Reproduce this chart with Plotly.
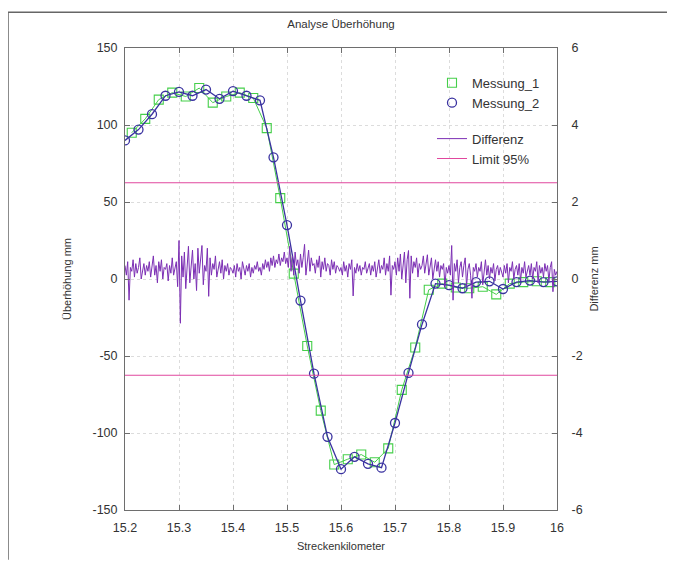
import numpy as np
import plotly.graph_objects as go

# ---------------- data ----------------
messung1_km = [15.2125, 15.2375, 15.2625, 15.2875, 15.3125, 15.3375, 15.3625, 15.3875,
               15.4125, 15.4375, 15.4625, 15.4875, 15.5125, 15.5375, 15.5625, 15.5875,
               15.6125, 15.6375, 15.6625, 15.6875, 15.7125, 15.7375, 15.7625, 15.7875,
               15.8125, 15.8375, 15.8625, 15.8875, 15.9125, 15.9375, 15.9625, 15.9875]
messung1_mm = [95, 104, 116.5, 121, 118.5, 124, 114.5, 118.5,
               121, 117.5, 98, 52.5, 3.5, -43.5, -85.5, -120.5,
               -117, -114, -119, -110, -72, -44.5, -7, -3,
               -5.5, -6, -5, -10, -3, -2, -1.5, -2]

messung2_km = [15.200, 15.225, 15.250, 15.275, 15.300, 15.325, 15.350, 15.375, 15.400,
               15.425, 15.450, 15.475, 15.500, 15.525, 15.550, 15.575, 15.600, 15.625,
               15.650, 15.675, 15.700, 15.725, 15.750, 15.775, 15.800, 15.825, 15.850,
               15.875, 15.900, 15.925, 15.950, 15.975, 16.000]
messung2_mm = [90, 97, 107, 119, 121.5, 119, 123, 117, 122,
               119, 116, 79, 35, -14, -61.5, -102.5, -123.5, -115.5,
               -120, -122.5, -93.5, -61, -29.5, -3, -4, -6, -2,
               -1.5, -6.5, -2, -1, -2, -1.5]

diff_start_km = 15.2
diff_step_km = 0.0025
differenz_mm = [
    0.35, 0.10, 0.45, -0.55, 0.30, 0.20, 0.50, 0.05, 0.40, 0.15, 0.30, 0.55, 0.00, 0.25, 0.40, 0.10, 0.35, 0.20, 0.45, 0.05,
    0.30, 0.60, 0.10, 0.35, -0.10, 0.45, 0.20, 0.50, 0.00, 0.30, 0.25, 0.40, -0.05, 0.35, 0.15, 0.55, 0.10, 0.30, 0.45, -0.20,
    1.00, -1.15, 0.60, 0.05, 0.70, -0.25, 0.45, 0.85, -0.10, 0.30, 0.75, 0.00, 0.40, -0.30, 0.80, 0.15, 0.50, 0.87, -0.15, 0.35,
    0.20, 0.80, -0.45, 0.55, 0.10, 0.40, 0.25, 0.60, 0.05, 0.30, 0.45, 0.15, 0.50, 0.00, 0.35, 0.20, 0.40, 0.10, 0.30, 0.25,
    0.15, 0.35, 0.05, 0.40, 0.20, 0.30, 0.00, 0.45, 0.25, 0.10, 0.35, 0.20, 0.40, 0.05, 0.30, 0.15, 0.35, 0.25, 0.45, 0.20,
    0.30, 0.10, 0.40, 0.25, 0.50, 0.30, 0.45, 0.20, 0.55, 0.35, 0.60, 0.30, 0.50, 0.40, 0.65, 0.35, 0.55, 0.45, 0.70, 0.40,
    0.55, 0.30, 0.85, 0.20, 0.60, 0.10, 0.70, 0.35, 0.50, 0.15, 0.65, 0.30, 0.55, 0.90, 0.10, 0.45, 0.75, 0.20, 0.55, 0.35,
    0.40, 0.15, 0.50, 0.30, 0.60, 0.05, 0.45, 0.25, 0.55, 0.20, 0.40, 0.35, 0.10, 0.50, 0.25, 0.45, 0.15, 0.35, 0.30, 0.20,
    0.30, 0.10, 0.45, 0.20, 0.35, 0.05, 0.40, 0.25, 0.50, -0.44, 0.30, 0.15, 0.40, 0.20, 0.35, 0.10, 0.30, 0.25, 0.45, 0.15,
    0.25, 0.40, 0.10, 0.35, 0.20, 0.45, 0.05, 0.30, 0.50, 0.15, 0.35, 0.25, 0.55, 0.10, 0.40, 0.20, 0.60, -0.42, 0.35, 0.25,
    0.45, 0.10, 0.55, 0.20, 0.65, 0.00, 0.40, 0.70, -0.10, 0.50, 0.74, -0.50, 0.60, 0.15, 0.45, 0.30, 0.55, 0.05, 0.40, 0.25,
    0.35, 0.60, 0.15, 0.45, 0.63, 0.10, 0.40, 0.55, 0.00, 0.30, 0.50, 0.20, 0.45, 0.05, 0.35, 0.25, 0.40, -0.20, 0.30, 0.15,
    0.35, 0.10, 0.87, -0.55, 0.40, 0.20, 0.50, -0.10, 0.30, 0.45, 0.05, 0.35, 0.55, -0.20, 0.25, 0.40, 0.10, -0.50, 0.30, 0.20,
    0.40, 0.05, 0.30, 0.20, 0.45, -0.15, 0.25, 0.50, 0.10, 0.35, 0.00, 0.30, 0.15, 0.40, -0.05, 0.25, 0.35, 0.10, 0.30, 0.20,
    0.05, 0.35, 0.15, 0.40, -0.10, 0.30, 0.20, 0.45, 0.00, 0.25, 0.35, 0.10, 0.40, -0.05, 0.30, 0.15, 0.45, 0.05, 0.25, 0.35,
    0.10, 0.40, 0.00, 0.30, 0.20, 0.45, -0.10, 0.35, 0.15, 0.30, 0.05, 0.40, 0.20, 0.35, -0.05, 0.30, 0.45, -0.33, 0.25, 0.10,
    0.20,
]
differenz_km = diff_start_km + diff_step_km * np.arange(len(differenz_mm))

limit_mm = 2.5
x_range = [15.2, 16.0]

x_tickvals = [15.2, 15.3, 15.4, 15.5, 15.6, 15.7, 15.8, 15.9, 16.0]
x_ticklabels = ["15.2", "15.3", "15.4", "15.5", "15.6", "15.7", "15.8", "15.9", "16"]
y_tickvals = [-150, -100, -50, 0, 50, 100, 150]
y_ticklabels = ["-150", "-100", "-50", "0", "50", "100", "150"]
y2_tickvals = [-6, -4, -2, 0, 2, 4, 6]
y2_ticklabels = ["-6", "-4", "-2", "0", "2", "4", "6"]

# ---------------- styles ----------------
FONT = "Liberation Sans, Arial, sans-serif"
GREEN = "#45cf4a"
BLUE = "#3a32a0"
PURPLE = "#7c2fb4"
MAGENTA = "#e0479e"
AXIS = "#6e6e6e"
GRID = "#dcdcdc"
TXT = "#333333"

# figure geometry (page body has an 8 px margin)
W, H = 659, 555
L, R, T, B = 117, 110, 40, 50
PW, PH = W - L - R, H - T - B

fig = go.Figure()

fig.add_trace(go.Scatter(x=messung1_km, y=messung1_mm, mode="lines",
                         line=dict(color=GREEN, width=1), showlegend=False,
                         hoverinfo="skip"))
fig.add_trace(go.Scatter(x=messung1_km, y=messung1_mm, mode="markers", name="Messung_1",
                         marker=dict(symbol="square-open", size=9, color=GREEN,
                                     line=dict(width=1.1, color=GREEN)),
                         legendgroup="m"))
fig.add_trace(go.Scatter(x=messung2_km, y=messung2_mm, mode="lines",
                         line=dict(color=BLUE, width=1.3), showlegend=False,
                         hoverinfo="skip"))
fig.add_trace(go.Scatter(x=messung2_km, y=messung2_mm, mode="markers", name="Messung_2",
                         marker=dict(symbol="circle-open", size=9, color=BLUE,
                                     line=dict(width=1.3, color=BLUE)),
                         legendgroup="m"))
fig.add_trace(go.Scatter(x=differenz_km, y=differenz_mm, mode="lines", name="Differenz",
                         line=dict(color=PURPLE, width=1), yaxis="y2",
                         legendgroup="d"))
fig.add_trace(go.Scatter(x=[x_range[0], x_range[1], None, x_range[0], x_range[1]],
                         y=[limit_mm, limit_mm, None, -limit_mm, -limit_mm],
                         mode="lines", name="Limit 95%", yaxis="y2",
                         line=dict(color=MAGENTA, width=1.2), legendgroup="d"))

tickfont = dict(family=FONT, size=12.5, color=TXT)
titlefont = dict(family=FONT, size=11, color=TXT)

# outer frame: left and top edges (the others run past the picture)
fx0 = (0 - L) / PW
fx1 = (W - L) / PW
fy0 = -B / PH
fy1 = (H - B - 4) / PH
frame_path = f"M {fx0},{fy0} L {fx0},{fy1} L {fx1},{fy1}"

fig.update_layout(
    width=W, height=H,
    margin=dict(l=L, r=R, t=T, b=B, pad=0),
    paper_bgcolor="white", plot_bgcolor="white",
    font=dict(family=FONT, size=12, color=TXT),
    title=dict(text="Analyse Überhöhung", x=(L + PW / 2) / W, xanchor="center",
               y=1 - 16 / H, yanchor="middle", font=dict(family=FONT, size=11.5, color=TXT)),
    xaxis=dict(range=x_range, tickvals=x_tickvals, ticktext=x_ticklabels,
               ticks="inside", ticklen=5, tickcolor=AXIS, showline=True,
               linecolor=AXIS, linewidth=1, mirror="ticks", showgrid=True,
               gridcolor=GRID, griddash="dot", zeroline=False, tickfont=tickfont,
               ticklabelstandoff=6,
               title=dict(text="Streckenkilometer", font=titlefont, standoff=8)),
    yaxis=dict(range=[-150, 150], tickvals=y_tickvals, ticktext=y_ticklabels,
               ticks="inside", ticklen=5, tickcolor=AXIS, showline=True,
               linecolor=AXIS, linewidth=1, showgrid=True, gridcolor=GRID,
               griddash="dot", zeroline=False, tickfont=tickfont, ticklabelstandoff=4,
               title=dict(text="Überhöhung mm", font=titlefont, standoff=18)),
    yaxis2=dict(range=[-6, 6], tickvals=y2_tickvals, ticktext=y2_ticklabels,
                overlaying="y", side="right", ticks="inside", ticklen=5,
                tickcolor=AXIS, showline=True, linecolor=AXIS, linewidth=1,
                showgrid=False, zeroline=False, tickfont=tickfont, ticklabelstandoff=11,
                title=dict(text="Differenz mm", font=titlefont, standoff=8)),
    legend=dict(x=(537 - L) / PW, xanchor="right", y=1 - (60 - T) / PH, yanchor="top",
                bgcolor="rgba(0,0,0,0)", font=dict(family=FONT, size=13, color=TXT),
                traceorder="grouped", tracegroupgap=16, itemwidth=30),
    shapes=[dict(type="path", xref="paper", yref="paper", path=frame_path,
                 line=dict(color="#666666", width=1.5), layer="below")],
)

fig.write_html("out.html")
